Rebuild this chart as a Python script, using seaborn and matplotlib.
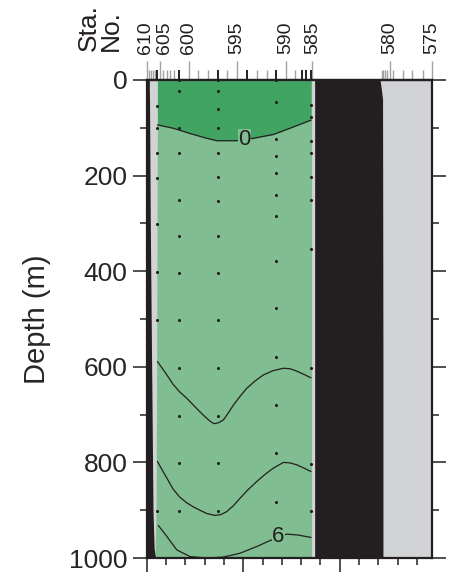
import numpy as np
import pandas as pd
import matplotlib
matplotlib.use('Agg')
import matplotlib.pyplot as plt
import matplotlib.transforms as mtransforms
import seaborn as sns

# station labels along the top (distance in km)
label_stations = ['610', '605', '600', '595', '590', '585', '580', '575']
label_km = [0.0, 6.9, 21.8, 46.6, 72.2, 85.8, 126.1, 147.8]
other_station_km = [1.2, 2.1, 3.0, 4.1, 8.4, 10.4, 12.1, 14.1, 26.7, 31.9, 41.8,
                    57.0, 62.2, 76.8, 121.8, 122.6, 123.5, 124.7, 127.8, 132.6,
                    137.6, 143.0]
used_station_km = [5.3, 16.7, 36.8, 51.8, 67.0, 80.3, 82.7, 85.0]

# sample positions (km, depth m)
col_a_km = 5.4
col_a_depth = [54, 101, 153, 204, 301, 402, 502, 902]
col_b_km = 16.9
col_b_depth = [0, 22, 101, 153, 252, 327, 403, 503, 603, 702, 802, 901]
col_c_km = 36.8
col_c_depth = [0, 22, 61, 101, 153, 202, 253, 327, 403, 502, 602, 702, 802, 901]
col_d_km = 67.0
col_d_depth = [0, 47, 123, 160, 195, 240, 285, 379, 476, 579, 680, 781, 883]
col_e_km = 85.1
col_e_depth = [52, 78, 127, 153, 202, 252, 354, 603, 803, 902]

# contour lines (km, depth m)
c0_km = [5.5, 13.8, 22.4, 31.1, 36.3, 46.6, 55.2, 65.6, 74.2, 85.1]
c0_depth = [94, 101, 112, 122, 127, 127, 122, 114, 101, 84]
c2_km = [5.5, 8.0, 10.4, 13.5, 16.9, 20.5, 24.1, 27.5, 31.1, 33.2, 34.9, 37.2, 39.7,
         42.0, 44.9, 48.3, 51.8, 56.0, 60.4, 65.5, 70.8, 74.2, 77.7, 81.5, 85.1]
c2_depth = [589, 603, 617, 636, 652, 665, 680, 694, 708, 715, 719, 717, 711,
            698, 680, 662, 645, 630, 617, 608, 603, 604, 609, 616, 623]
c4_km = [5.5, 8.0, 10.4, 13.5, 16.9, 20.5, 24.1, 27.5, 31.1, 35.4, 38.5, 41.4, 44.8,
         48.3, 52.5, 57.0, 61.3, 65.6, 70.8, 74.2, 77.7, 81.5, 85.1]
c4_depth = [798, 816, 833, 855, 872, 884, 893, 900, 907, 911, 909, 903, 891,
            875, 857, 840, 825, 812, 800, 801, 805, 812, 819]
c6_km = [6.0, 10.4, 15.5, 22.4, 31.1, 39.7, 48.3, 57.0, 63.0, 68.2, 72.5, 78.5, 85.1]
c6_depth = [932, 955, 983, 997, 1000, 998, 990, 976, 965, 957, 950, 952, 957]

# boundaries (depth m -> km)
edge_depth = [0, 20, 40, 300, 600, 900, 980, 1000]
green_left_km = [5.5, 5.5, 5.5, 5.3, 5.1, 4.8, 4.4, 4.2]
green_right_km = [85.4, 85.4, 85.4, 85.4, 85.4, 85.4, 85.4, 85.4]
bottom_left_km = [1.3, 1.3, 1.4, 1.8, 2.5, 3.2, 3.8, 4.5]
ridge_left_km = [87.0, 87.0, 87.0, 87.0, 87.0, 87.0, 87.0, 87.0]
ridge_right_km = [120.9, 121.6, 122.2, 122.3, 122.4, 122.4, 122.4, 122.4]

dark_green = '#41a462'
light_green = '#80bd90'
gray = '#d1d3d4'
black = '#231f20'
tick_gray = '#a0a2a5'

sns.set_style('ticks')
plt.rcParams['font.family'] = ['Liberation Sans', 'DejaVu Sans']

fig = plt.figure(figsize=(4.49, 5.78), dpi=100)
ax = fig.add_axes([0.327, 0.0346, 0.635, 0.827])
ax.set_facecolor(gray)

# regions
ax.fill_betweenx(edge_depth, green_left_km, green_right_km, color=light_green, lw=0)
ax.fill_between(c0_km, 0, c0_depth, color=dark_green, lw=0)
ax.fill_betweenx(edge_depth, 0, bottom_left_km, color=black, lw=0)
ax.fill_betweenx(edge_depth, ridge_left_km, ridge_right_km, color=black, lw=0)

# contours
lines = pd.concat([
    pd.DataFrame({'km': c0_km, 'depth': c0_depth, 'level': '0'}),
    pd.DataFrame({'km': c2_km, 'depth': c2_depth, 'level': '2'}),
    pd.DataFrame({'km': c4_km, 'depth': c4_depth, 'level': '4'}),
    pd.DataFrame({'km': c6_km, 'depth': c6_depth, 'level': '6'}),
])
sns.lineplot(data=lines, x='km', y='depth', hue='level', units='level', estimator=None,
             sort=False, palette={k: black for k in ['0', '2', '4', '6']},
             lw=0.9, legend=False, ax=ax)
ax.text(50.6, 125, '0', fontsize=16, color=black, ha='center', va='center',
        bbox=dict(facecolor=light_green, edgecolor='none', pad=0.3))
ax.text(68.2, 955, '6', fontsize=16, color=black, ha='center', va='center',
        bbox=dict(facecolor=light_green, edgecolor='none', pad=0.3))

# sample dots
dots = pd.concat([
    pd.DataFrame({'km': col_a_km, 'depth': col_a_depth}),
    pd.DataFrame({'km': col_b_km, 'depth': col_b_depth}),
    pd.DataFrame({'km': col_c_km, 'depth': col_c_depth}),
    pd.DataFrame({'km': col_d_km, 'depth': col_d_depth}),
    pd.DataFrame({'km': col_e_km, 'depth': col_e_depth}),
])
sns.scatterplot(data=dots, x='km', y='depth', color=black, s=5, marker='o',
                linewidth=0, ax=ax)

ax.set_xlim(0, 147.8)
ax.set_ylim(1000, 0)
ax.set_xlabel('')
ax.set_ylabel('Depth (m)', fontsize=21, labelpad=13)

ax.set_yticks(np.arange(0, 1001, 200))
ax.set_yticks(np.arange(100, 1000, 200), minor=True)
ax.set_xticks([0, 50, 100])
ax.set_xticks(np.arange(0, 148, 10), minor=True)
ax.tick_params(axis='y', which='both', left=True, right=True, direction='out',
               width=1.1, color=black, labelsize=19, pad=4)
ax.tick_params(axis='x', which='both', bottom=True, top=False, direction='out',
               width=1.1, color=black, labelbottom=False)
ax.tick_params(which='major', length=10)
ax.tick_params(which='minor', length=5)
for s in ax.spines.values():
    s.set_linewidth(1.6)
    s.set_color(black)
    s.set_zorder(5)

# station axis on top
sec = ax.secondary_xaxis('top')
sec.set_xticks(label_km, labels=[])
sec.set_xticks(other_station_km, minor=True)
sec.tick_params(axis='x', which='major', length=13.5, width=1.0, color=tick_gray)
sec.tick_params(axis='x', which='minor', length=7, width=1.0, color=tick_gray)
sec.spines['top'].set_linewidth(1.6)
sec.spines['top'].set_color(black)
ax.vlines(used_station_km, 1.0, 1.021, transform=ax.get_xaxis_transform(),
          colors=black, lw=1.4, clip_on=False)

# station numbers; the two crowded ones at the left are nudged apart
nudge_px = {'610': -1.5, '605': 4.5}
for name, km in zip(label_stations, label_km):
    off = mtransforms.ScaledTranslation(nudge_px.get(name, 0) / 100, 26 / 100,
                                        fig.dpi_scale_trans)
    ax.text(km, 1.0, name, transform=ax.get_xaxis_transform() + off, rotation=90,
            ha='center', va='bottom', fontsize=14, color=black)

fig.text(0.222, 0.912, 'Sta.\nNo.', rotation=90, fontsize=19, ha='center', va='bottom',
         multialignment='left', linespacing=0.9, color=black)

fig.savefig('out.png', dpi=100)
